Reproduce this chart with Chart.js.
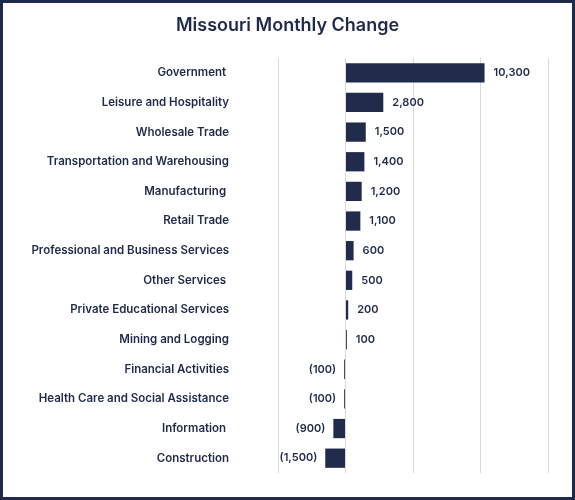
<!DOCTYPE html>
<html>
<head>
<meta charset="utf-8">
<script src="https://cdn.jsdelivr.net/npm/chart.js@4.4.1/dist/chart.umd.min.js"></script>
<style>
  html, body { margin: 0; padding: 0; background: #fff; }
  #wrap {
    width: 575px; height: 500px; box-sizing: border-box;
    border: 3px solid #1f2a4a; background: #fff;
  }
  canvas { display: block; }
</style>
</head>
<body>
<div id="wrap"><canvas id="chart" width="569" height="494"></canvas></div>
<script>
const categories = [
  'Government ', 'Leisure and Hospitality', 'Wholesale Trade', 'Transportation and Warehousing',
  'Manufacturing ', 'Retail Trade', 'Professional and Business Services', 'Other Services ',
  'Private Educational Services', 'Mining and Logging', 'Financial Activities',
  'Health Care and Social Assistance', 'Information ', 'Construction'
];
const changes = [10300, 2800, 1500, 1400, 1200, 1100, 600, 500, 200, 100, -100, -100, -900, -1500];
const xTicks = [-5000, 0, 5000, 10000, 15000];
const titleText = 'Missouri Monthly Change';

const navy = '#1f2a4a';
const fontFamily = 'Inter, "Noto Sans", sans-serif';

function fmt(v) {
  const s = Math.abs(v).toLocaleString('en-US');
  return v < 0 ? '(' + s + ')' : s;
}

// title centred on the whole canvas, plus the value next to each bar
const barValues = {
  id: 'barValues',
  afterDraw(chart) {
    const { ctx } = chart;
    ctx.save();
    ctx.font = '600 18px ' + fontFamily;
    ctx.fillStyle = navy;
    ctx.textAlign = 'center';
    ctx.textBaseline = 'alphabetic';
    ctx.fillText(titleText, chart.width / 2, 28);

    const meta = chart.getDatasetMeta(0);
    ctx.font = '600 11px ' + fontFamily;
    ctx.textBaseline = 'middle';
    meta.data.forEach((bar, i) => {
      const v = changes[i];
      if (v < 0) {
        ctx.textAlign = 'right';
        ctx.fillText(fmt(v), bar.x - 8, bar.y);
      } else {
        ctx.textAlign = 'left';
        ctx.fillText(fmt(v), bar.x + 9, bar.y);
      }
    });
    ctx.restore();
  }
};

new Chart(document.getElementById('chart'), {
  type: 'bar',
  data: {
    labels: categories,
    datasets: [{
      data: changes,
      backgroundColor: '#212c4d',
      barPercentage: 0.65,
      categoryPercentage: 1.0
    }]
  },
  options: {
    indexAxis: 'y',
    responsive: false,
    animation: false,
    layout: { padding: { left: 5, right: 24, top: 55, bottom: 24 } },
    plugins: {
      legend: { display: false },
      tooltip: { enabled: false },
      title: { display: false }
    },
    scales: {
      x: {
        min: xTicks[0],
        max: xTicks[xTicks.length - 1],
        afterBuildTicks(scale) { scale.ticks = xTicks.map(v => ({ value: v })); },
        afterFit(scale) { scale.height = 0; },
        ticks: { display: false },
        grid: { color: '#d9d9d9', drawTicks: false },
        border: { display: false }
      },
      y: {
        afterFit(scale) {
          scale.width = 270;
          scale.paddingTop = 0;
          scale.paddingBottom = 0;
        },
        ticks: {
          color: navy,
          padding: 49,
          font: { family: fontFamily, size: 11.5, weight: '600' }
        },
        grid: { display: false, drawTicks: false },
        border: { display: false }
      }
    }
  },
  plugins: [barValues]
});
</script>
</body>
</html>
